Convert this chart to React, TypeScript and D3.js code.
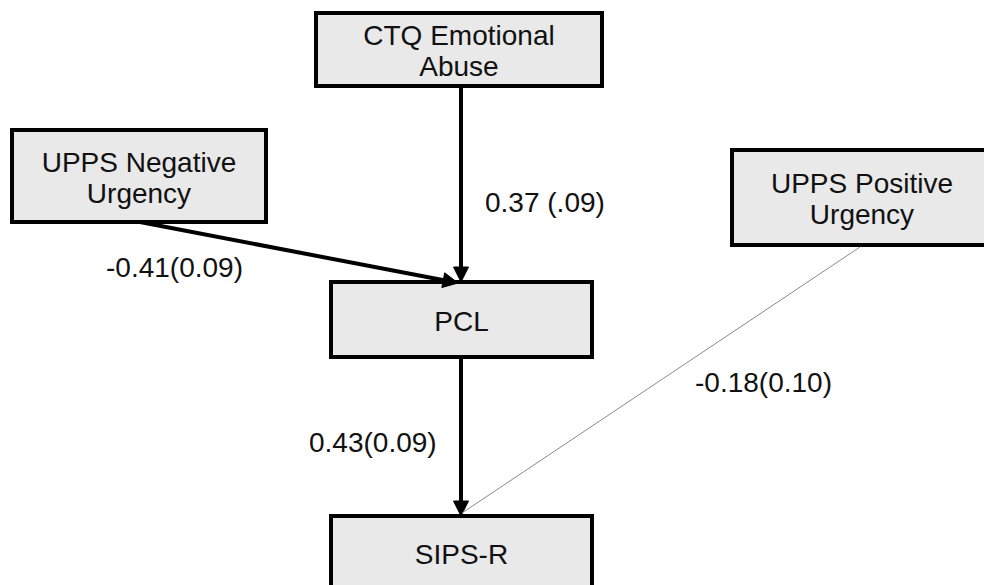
import React from "react";
import * as d3 from "d3";

// ---- data ----
const nodeIds = ["ctq", "neg", "pos", "pcl", "sips"];
const nodeLabels = [
  ["CTQ Emotional", "Abuse"],
  ["UPPS Negative", "Urgency"],
  ["UPPS Positive", "Urgency"],
  ["PCL"],
  ["SIPS-R"],
];
const edgeFrom = ["ctq", "neg", "pcl", "pos"];
const edgeTo = ["pcl", "pcl", "sips", "sips"];
const edgeLabels = ["0.37 (.09)", "-0.41(0.09)", "0.43(0.09)", "-0.18(0.10)"];
const edgeSignificant = [true, true, true, false];

// ---- layout (pixel positions of boxes, anchors and labels) ----
const W = 984;
const H = 585;
const boxLayout: Record<string, { x0: number; x1: number; y0: number; y1: number }> = {
  ctq: { x0: 316, x1: 602, y0: 13, y1: 86 },
  neg: { x0: 12, x1: 266, y0: 130, y1: 222 },
  pos: { x0: 732, x1: 992, y0: 150, y1: 245 },
  pcl: { x0: 331, x1: 592, y0: 282, y1: 357 },
  sips: { x0: 331, x1: 592, y0: 516, y1: 590 },
};
const edgeStart = [
  [461, 86],
  [140, 222],
  [461, 357],
  [860, 247],
];
const edgeEnd = [
  [461, 282],
  [458, 283],
  [461, 516],
  [462, 513],
];
const labelPos = [
  [485, 212],
  [106, 277],
  [309, 452],
  [695, 392],
];

const FONT = "'Liberation Sans', Arial, Helvetica, sans-serif";
const FS = 28;
const LINE_H = 31;

function Arrow({ s, e, strong }: { s: number[]; e: number[]; strong: boolean }) {
  const x = d3.scaleLinear().domain([0, 1]).range([s[0], e[0]]);
  const y = d3.scaleLinear().domain([0, 1]).range([s[1], e[1]]);
  const len = Math.hypot(e[0] - s[0], e[1] - s[1]);
  if (!strong) {
    const line = d3.line()([
      [x(0), y(0)],
      [x(1), y(1)],
    ]);
    return <path d={line ?? ""} stroke="#8a8a8a" strokeWidth={1} fill="none" />;
  }
  const headLen = 15;
  const headW = 7.5;
  const t = 1 - (headLen - 2) / len;
  const ux = (e[0] - s[0]) / len;
  const uy = (e[1] - s[1]) / len;
  const bx = e[0] - ux * headLen;
  const by = e[1] - uy * headLen;
  const px = -uy;
  const py = ux;
  const shaft = d3.line()([
    [x(0), y(0)],
    [x(t), y(t)],
  ]);
  const head = d3.line()([
    [e[0], e[1]],
    [bx + px * headW, by + py * headW],
    [bx - px * headW, by - py * headW],
  ]);
  return (
    <g>
      <path d={shaft ?? ""} stroke="#000" strokeWidth={4} fill="none" />
      <path d={(head ?? "") + "Z"} fill="#000" stroke="#000" strokeWidth={1} strokeLinejoin="miter" />
    </g>
  );
}

export default function App() {
  return (
    <svg
      width={W}
      height={H}
      viewBox={`0 0 ${W} ${H}`}
      style={{ position: "absolute", left: 0, top: 0, background: "#fff" }}
    >
      <rect x={0} y={0} width={W} height={H} fill="#fff" />
      {nodeIds.map((id, i) => {
        const b = boxLayout[id];
        const cx = (b.x0 + b.x1) / 2;
        const cy = (b.y0 + b.y1) / 2;
        const lines = nodeLabels[i];
        const n = lines.length;
        return (
          <g key={id}>
            <rect
              x={b.x0}
              y={b.y0}
              width={b.x1 - b.x0}
              height={b.y1 - b.y0}
              fill="#e9e9e9"
              stroke="#000"
              strokeWidth={4}
            />
            {lines.map((ln, j) => (
              <text
                key={j}
                x={cx}
                y={cy + 11 + (j - (n - 1) / 2) * LINE_H - (n > 1 ? 0 : 0)}
                textAnchor="middle"
                fontFamily={FONT}
                fontSize={FS}
                fill="#111"
              >
                {ln}
              </text>
            ))}
          </g>
        );
      })}
      {edgeFrom.map((f, i) => (
        <Arrow key={f + edgeTo[i]} s={edgeStart[i]} e={edgeEnd[i]} strong={edgeSignificant[i]} />
      ))}
      {edgeLabels.map((lab, i) => (
        <text
          key={lab}
          x={labelPos[i][0]}
          y={labelPos[i][1]}
          fontFamily={FONT}
          fontSize={FS}
          fill="#111"
        >
          {lab}
        </text>
      ))}
    </svg>
  );
}
